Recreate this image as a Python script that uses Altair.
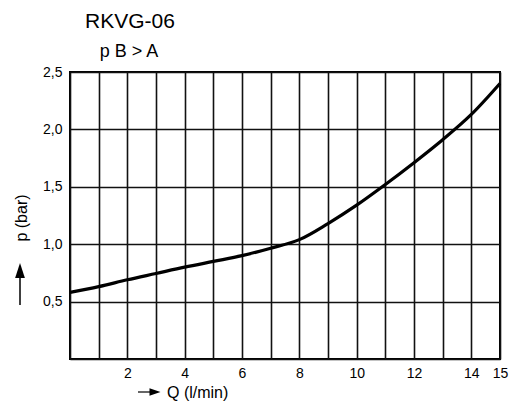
import altair as alt
import pandas as pd

# Data
q_values = [0, 1, 2, 3, 4, 5, 6, 7, 8, 9, 10, 11, 12, 13, 14, 15]
p_values = [0.58, 0.63, 0.69, 0.745, 0.80, 0.85, 0.90, 0.965, 1.04, 1.18, 1.34, 1.52, 1.71, 1.91, 2.13, 2.40]
x_grid = list(range(16))
x_labels = [2, 4, 6, 8, 10, 12, 14, 15]
y_grid = [0, 0.5, 1.0, 1.5, 2.0, 2.5]
title_text = "RKVG-06"
subtitle_text = "p B > A"
x_title = "Q (l/min)"
y_title = "p (bar)"

FONT = "Liberation Sans, Arial, Helvetica, sans-serif"

df = pd.DataFrame({"Q": q_values, "p": p_values})
one = alt.Data(values=[{"a": 1}])

label_list = ",".join(str(v) for v in x_labels)

xenc = alt.X(
    "Q:Q",
    scale=alt.Scale(domain=[0, 15], nice=False, zero=False),
    axis=alt.Axis(
        values=x_grid,
        labelExpr=f"indexof([{label_list}], datum.value) >= 0 ? datum.label : ''",
        title=None,
        domain=False,
        ticks=False,
        grid=True,
        gridColor="#111111",
        gridWidth=1.6,
        labelPadding=7,
        labelFontSize=14,
        labelFont=FONT,
        labelColor="black",
        labelFlush=False,
        labelOverlap=False,
    ),
)
yenc = alt.Y(
    "p:Q",
    scale=alt.Scale(domain=[0, 2.5], nice=False),
    axis=alt.Axis(
        values=y_grid,
        labelExpr="datum.value == 0 ? '' : replace(format(datum.value, '.1f'), '.', ',')",
        title=None,
        domain=False,
        ticks=False,
        grid=True,
        gridColor="#111111",
        gridWidth=1.4,
        labelPadding=8,
        labelFontSize=14,
        labelFont=FONT,
        labelColor="black",
        labelOverlap=False,
    ),
)

curve = alt.Chart(df).mark_line(color="black", strokeWidth=3.2, interpolate="monotone").encode(
    x=xenc, y=yenc
)

title1 = alt.Chart(one).mark_text(
    text=title_text, font=FONT, fontSize=21, align="center", baseline="alphabetic", color="black"
).encode(x=alt.value(60), y=alt.value(-44))
title2 = alt.Chart(one).mark_text(
    text=subtitle_text, font=FONT, fontSize=18, align="center", baseline="alphabetic", color="black"
).encode(x=alt.value(59), y=alt.value(-15))

xt = alt.Chart(one).mark_text(
    text=x_title, font=FONT, fontSize=16, align="left", baseline="middle", color="black"
).encode(x=alt.value(97), y=alt.value(321))

yt = alt.Chart(one).mark_text(
    text=y_title, font=FONT, fontSize=16, align="center", baseline="middle", angle=270, color="black"
).encode(x=alt.value(-48), y=alt.value(146))

# arrows
x_arrow_line = alt.Chart(one).mark_rule(color="black", strokeWidth=1.2).encode(
    x=alt.value(68), x2=alt.value(82), y=alt.value(320)
)
x_arrow_head = alt.Chart(one).mark_point(
    shape="M-1,-0.7L1,0L-1,0.7Z", filled=True, color="black", opacity=1, size=121
).encode(x=alt.value(85), y=alt.value(320))

y_arrow_line = alt.Chart(one).mark_rule(color="black", strokeWidth=1.5).encode(
    x=alt.value(-50), y=alt.value(233), y2=alt.value(203)
)
y_arrow_head = alt.Chart(one).mark_point(
    shape="M-0.65,1L0,-1L0.65,1Z", filled=True, color="black", opacity=1, size=225
).encode(x=alt.value(-50), y=alt.value(198.5))

chart = alt.layer(
    curve, title1, title2, xt, yt, x_arrow_line, x_arrow_head, y_arrow_line, y_arrow_head
).properties(
    width=430,
    height=287,
    autosize=alt.AutoSizeParams(type="none"),
    padding={"left": 62, "top": 64, "right": 10, "bottom": 47},
    background="white",
).configure_view(stroke="black", strokeWidth=2)

chart.save("out.html", embed_options={"renderer": "svg", "actions": False})
